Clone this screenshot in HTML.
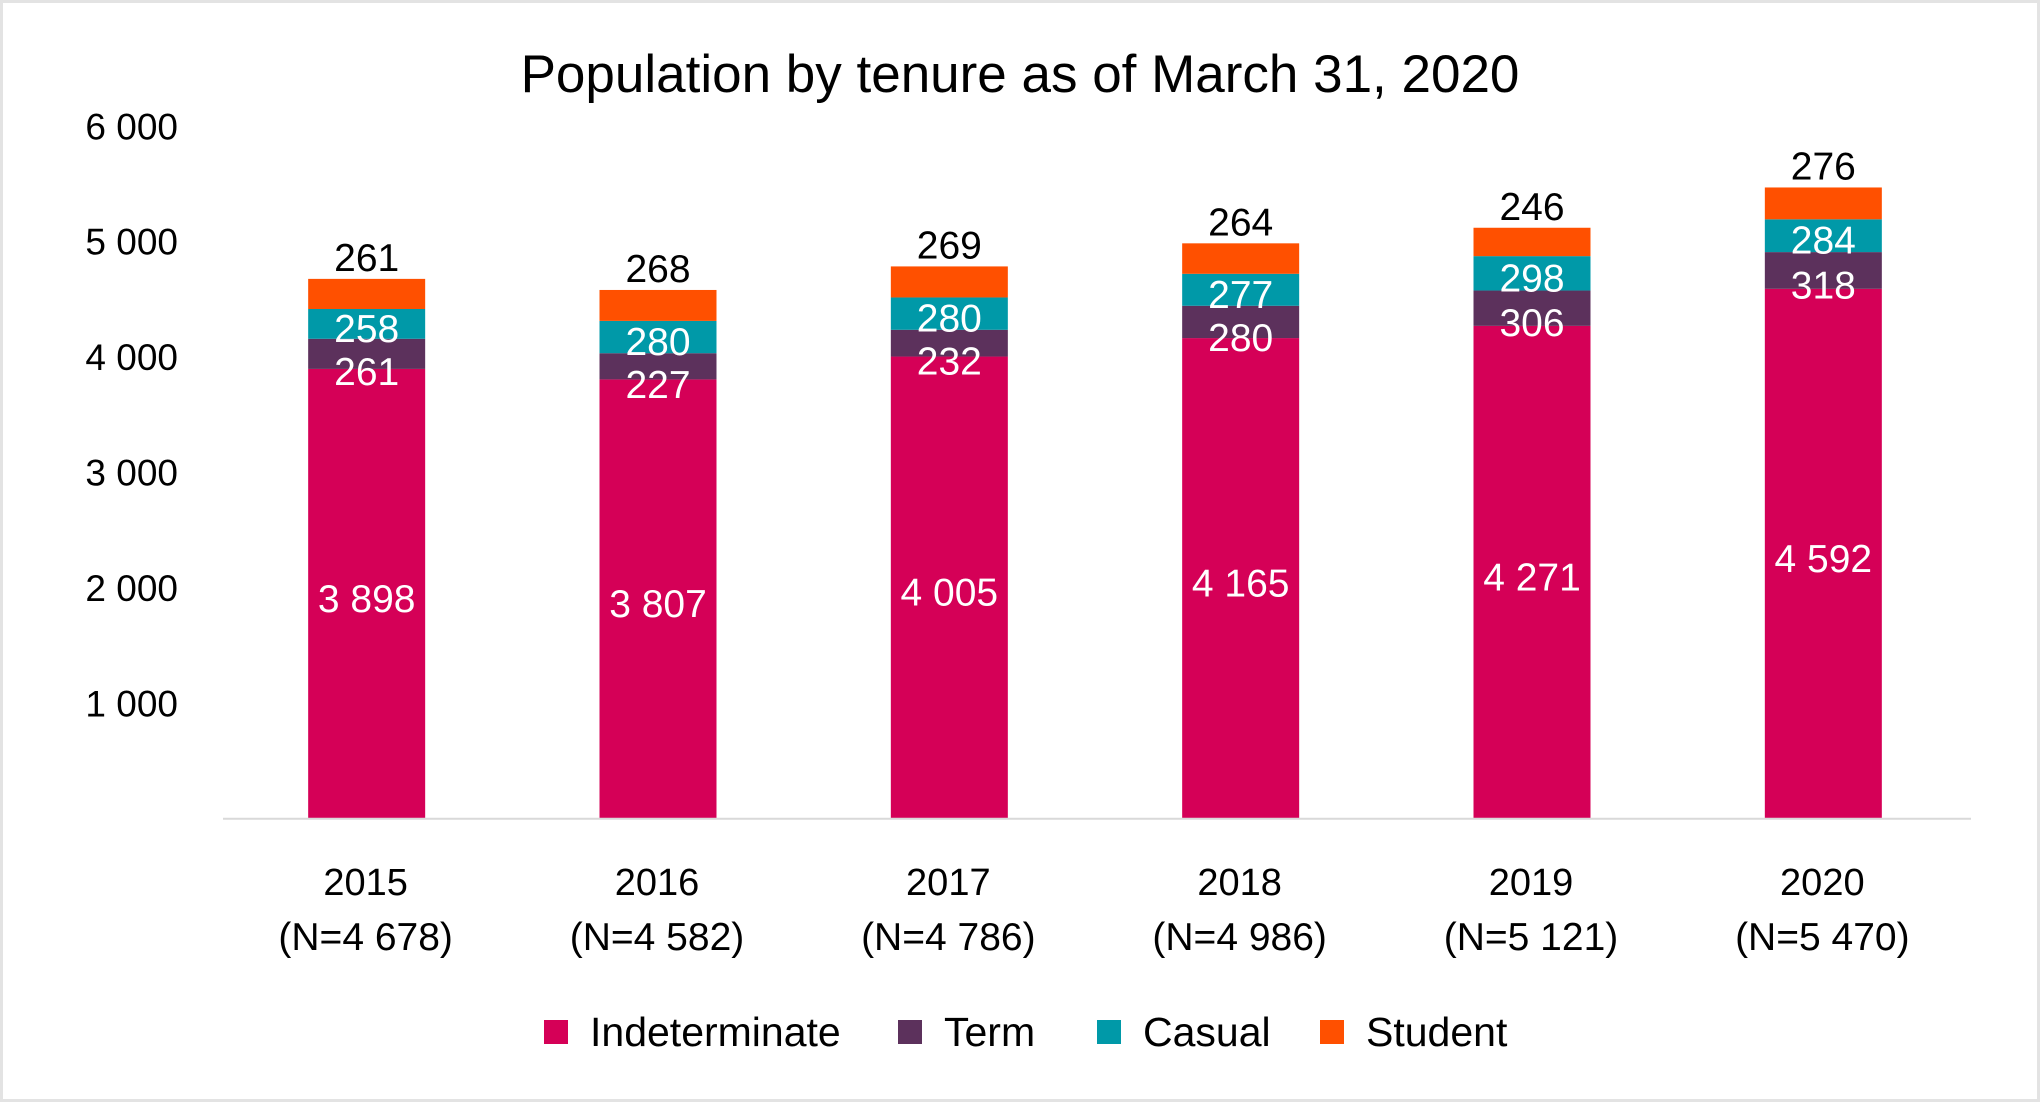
<!DOCTYPE html>
<html><head><meta charset="utf-8"><style>
html,body{margin:0;padding:0;background:#fff;}
svg{display:block;font-family:"Liberation Sans",sans-serif;}
</style></head><body>
<svg id="chart" width="2041" height="1103" viewBox="0 0 2041 1103">
<rect x="1.5" y="1.5" width="2037" height="1099" fill="#fff" stroke="#e3e3e3" stroke-width="3"/>
<text x="1020" y="92" text-anchor="middle" font-size="53" fill="#000">Population by tenure as of March 31, 2020</text>
<g id="yaxis"></g>
<g id="bars"></g>
<g id="xaxis"></g>
<g id="legend"></g>
</svg>
<script>
const categories = ["2015","2016","2017","2018","2019","2020"];
const totals = ["4 678","4 582","4 786","4 986","5 121","5 470"];
const indeterminate = [3898,3807,4005,4165,4271,4592];
const term = [261,227,232,280,306,318];
const casual = [258,280,280,277,298,284];
const student = [261,268,269,264,246,276];
const yTicks = [1000,2000,3000,4000,5000,6000];
const yTickLabels = ["1 000","2 000","3 000","4 000","5 000","6 000"];
const seriesNames = ["Indeterminate","Term","Casual","Student"];

const colors = ["#d50057","#5c315c","#0099a8","#ff5000"];
const NS = "http://www.w3.org/2000/svg";
const y0 = 818.8, yTop = 126.3, vMax = 6000;
const y = v => y0 - (v / vMax) * (y0 - yTop);
const x0 = 223, x1 = 1971;
const band = (x1 - x0) / categories.length;
const xc = i => x0 + band * (i + 0.5) - 2;
const barW = 117;
function mk(tag, attrs, parent, txt){const e=document.createElementNS(NS,tag);for(const k in attrs)e.setAttribute(k,attrs[k]);if(txt!==undefined)e.textContent=txt;parent.appendChild(e);return e;}
const fmt = v => v >= 1000 ? Math.floor(v/1000)+" "+String(v%1000).padStart(3,"0") : String(v);

const ya = document.getElementById("yaxis");
yTicks.forEach((t,i)=>{
  const e = mk("text",{x:178,y:y(t)+13,"text-anchor":"end","font-size":"37",fill:"#000"},ya,yTickLabels[i]);
  
  
});

const bg = document.getElementById("bars");
const series = [indeterminate, term, casual, student];
categories.forEach((c,i)=>{
  let base = 0;
  const tops = [];
  series.forEach((s,k)=>{
    const r = mk("rect",{x:xc(i)-barW/2,y:y(base+s[i]),width:barW,height:y(base)-y(base+s[i]),fill:colors[k]},bg);
    
    
    tops.push([base, base+s[i]]);
    base += s[i];
  });
  const mid = k => (y(tops[k][0]) + y(tops[k][1]))/2;
  const l0 = mk("text",{x:xc(i),y:mid(0)+18,"text-anchor":"middle","font-size":"39",fill:"#fff"},bg,fmt(indeterminate[i]));
  
  
  const casY = mid(2);
  const termY = Math.max(mid(1)+14, casY+47);
  const l1 = mk("text",{x:xc(i),y:termY+14,"text-anchor":"middle","font-size":"39",fill:"#fff"},bg,fmt(term[i]));
  
  
  const l2 = mk("text",{x:xc(i),y:casY+18,"text-anchor":"middle","font-size":"39",fill:"#fff"},bg,fmt(casual[i]));
  
  
  const l3 = mk("text",{x:xc(i),y:y(base)-8,"text-anchor":"middle","font-size":"39",fill:"#000"},bg,fmt(student[i]));
  
  
});

const xa = document.getElementById("xaxis");
const ax = mk("line",{x1:x0,x2:x1,y1:y0,y2:y0,stroke:"#d9d9d9","stroke-width":"2"},xa);


categories.forEach((c,i)=>{
  const a = mk("text",{x:xc(i)-1,y:895,"text-anchor":"middle","font-size":"38",fill:"#000"},xa,c);
  
  
  const b = mk("text",{x:xc(i)-1,y:950,"text-anchor":"middle","font-size":"39",fill:"#000"},xa,"(N="+totals[i]+")");
  
  
});

const lg = document.getElementById("legend");
const lx = [544,898,1097,1320];
seriesNames.forEach((n,k)=>{
  const s = mk("rect",{x:lx[k],y:1020,width:24,height:24,fill:colors[k]},lg);
  
  
  const t = mk("text",{x:lx[k]+46,y:1046,"font-size":"41",fill:"#000"},lg,n);
  
  
});
</script>
</body></html>
